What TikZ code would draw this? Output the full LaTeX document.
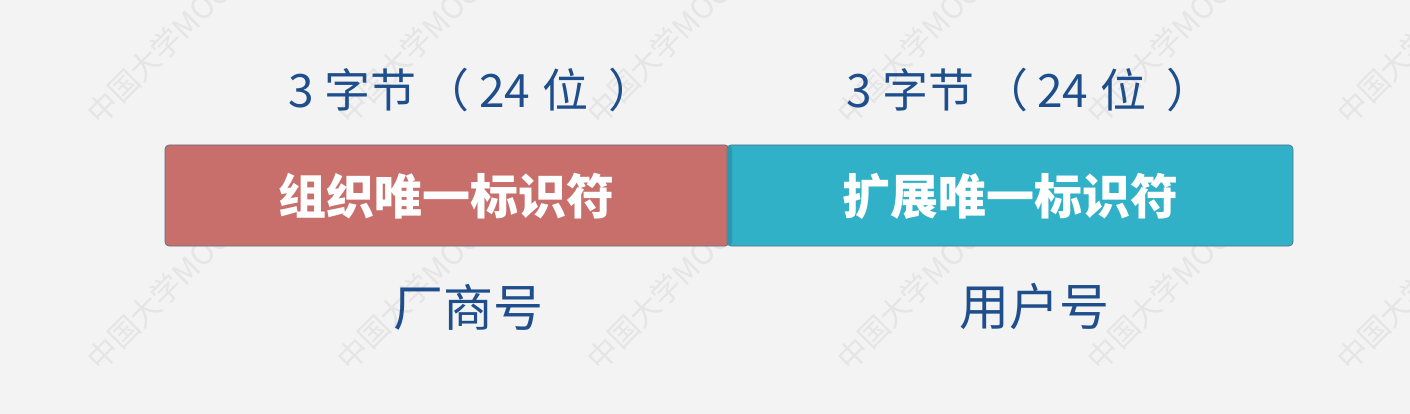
\documentclass[tikz,border=0pt]{standalone}
\usepackage{fontspec}
\newfontfamily\cjk{Noto Sans CJK SC}
\definecolor{bg}{HTML}{F3F3F3}
\definecolor{txtblue}{HTML}{1F4E8C}
\definecolor{redbox}{HTML}{C96F6B}
\definecolor{bluebox}{HTML}{31B1C7}
\definecolor{blueshade}{HTML}{2A98AE}
\definecolor{edge}{HTML}{5E6E86}
\definecolor{wm}{HTML}{E5E5E5}
\newcommand{\bytelabel}{3 字节\hspace{8pt}（\hspace{9pt}24\hspace{2pt} 位\hspace{20pt}）}
\begin{document}
\begin{tikzpicture}[x=1pt,y=-1pt,
  field/.style={draw=edge,line width=0.7pt,rounded corners=4pt},
  fieldtext/.style={text=white,font=\cjk\bfseries\fontsize{48}{48}\selectfont,inner sep=0pt},
  toplabel/.style={text=txtblue,font=\cjk\fontsize{46}{46}\selectfont,anchor=base west,inner sep=0pt},
  botlabel/.style={text=txtblue,font=\cjk\fontsize{50}{50}\selectfont,inner sep=0pt},
  watermark/.style={text=wm,font=\cjk\fontsize{30}{30}\selectfont,rotate=45,anchor=south west,inner sep=0pt}
]
\fill[bg] (0,0) rectangle (1410,414);
\useasboundingbox (0,0) rectangle (1410,414);
% watermarks
\foreach \wx in {102,352,602,852,1102,1352}{
  \node[watermark] (wmt\wx) at (\wx,128) {中国大学MOOC};
  \node[watermark] (wmb\wx) at (\wx,374) {中国大学MOOC};
}
% boxes
\fill[redbox,field] (165,145) rectangle (729,246);
\fill[bluebox,field] (727,145) rectangle (1293,246);
\fill[blueshade,rounded corners=3pt] (727.6,145.6) rectangle (732,245.4);
\node[fieldtext] (org) at (446,196) {组织唯一标识符};
\node[fieldtext] (ext) at (1010,196) {扩展唯一标识符};
% top labels
\node[toplabel] (t1) at (288,108) {\bytelabel};
\node[toplabel] (t2) at (846,108) {\bytelabel};
% bottom labels
\node[botlabel] (b1) at (468,307) {厂商号};
\node[botlabel] (b2) at (1034,307) {用户号};
\end{tikzpicture}
\end{document}
